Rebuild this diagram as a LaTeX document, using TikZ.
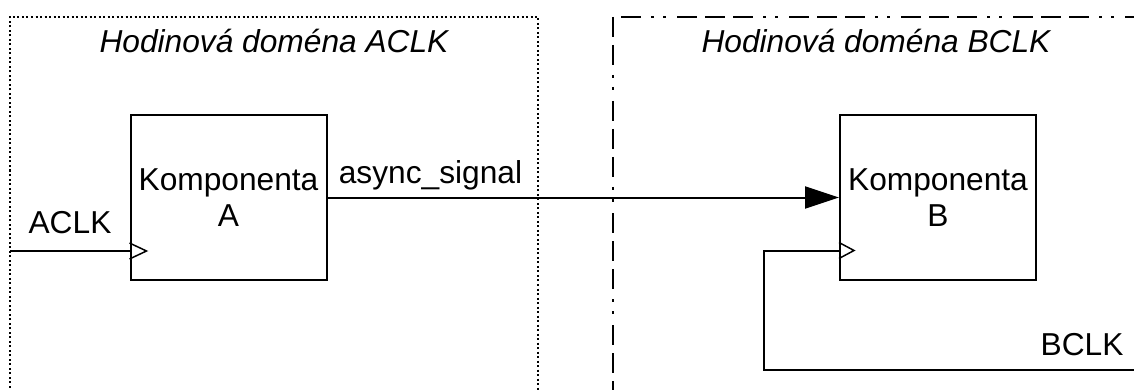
\documentclass[tikz,border=0pt]{standalone}
\usepackage{fontspec}
\setmainfont{Liberation Sans}
\usetikzlibrary{arrows.meta,calc}

\tikzset{
  lbl/.style={font=\fontsize{31.7}{36}\selectfont, inner sep=0pt, anchor=base},
  domtitle/.style={lbl, font=\fontsize{31.7}{36}\selectfont\itshape},
  comp/.style={draw, line width=2pt, minimum width=196pt, minimum height=164pt,
    inner sep=0pt, align=center, font=\fontsize{31.7}{36}\selectfont},
  wire/.style={line width=2pt},
  clk/.style={line width=1.5pt, line join=miter},
  domainA/.style={line width=2pt, dash pattern=on 2pt off 2.5pt},
  domainB/.style={line width=2pt,
    dash pattern=on 20pt off 8pt on 20pt off 8pt on 20pt off 10pt on 3pt off 9pt on 3pt off 11pt},
}

\begin{document}
\begin{tikzpicture}[x=1pt, y=-1pt]
  \useasboundingbox (0,0) rectangle (1134,390);
  \clip (0,0) rectangle (1134,390);

  % clock domain A (dotted frame)
  \draw[domainA] (10,410) -- (10,17) -- (538,17) -- (538,410);
  \node[domtitle] (titleA) at (274,53) {Hodinová doména ACLK};

  % clock domain B (dash-dot frame)
  \draw[domainB, dash phase=28pt] (613,17) -- (613,410);
  \draw[domainB, dash phase=48pt] (613,17) -- (1160,17);
  \node[domtitle] (titleB) at (876,53) {Hodinová doména BCLK};

  % components
  \node[comp] (boxA) at (228.5,197.5) {Komponenta\\A};
  \node[comp] (boxB) at (938,197.5) {Komponenta\\B};

  % ACLK input
  \coordinate (aclkin) at (10,251);
  \coordinate (apin) at (boxA.west |- aclkin);
  \draw[wire] (aclkin) -- (apin);
  \draw[clk] ($(apin)+(0,-8)$) -- ($(apin)+(17,0)$) -- ($(apin)+(0,8)$);
  \node[lbl] (aclklbl) at (70,233) {ACLK};

  % asynchronous signal A -> B
  \draw[wire, -{Triangle[length=34pt,width=22pt]}] (boxA.east) -- (boxB.west);
  \node[lbl] (asynclbl) at (430.5,183) {async\_signal};

  % BCLK input, looping round below component B
  \coordinate (bclkend) at (1160,370);
  \coordinate (bcorner) at (764,370);
  \coordinate (bpin) at ($(boxB.south west)+(0,-30)$);
  \draw[wire] (bclkend) -- (bcorner) -- (bcorner |- bpin) -- (bpin);
  \draw[clk] ($(bpin)+(0,-8)$) -- ($(bpin)+(15,0)$) -- ($(bpin)+(0,8)$);
  \node[lbl] (bclklbl) at (1082,355) {BCLK};
\end{tikzpicture}
\end{document}
